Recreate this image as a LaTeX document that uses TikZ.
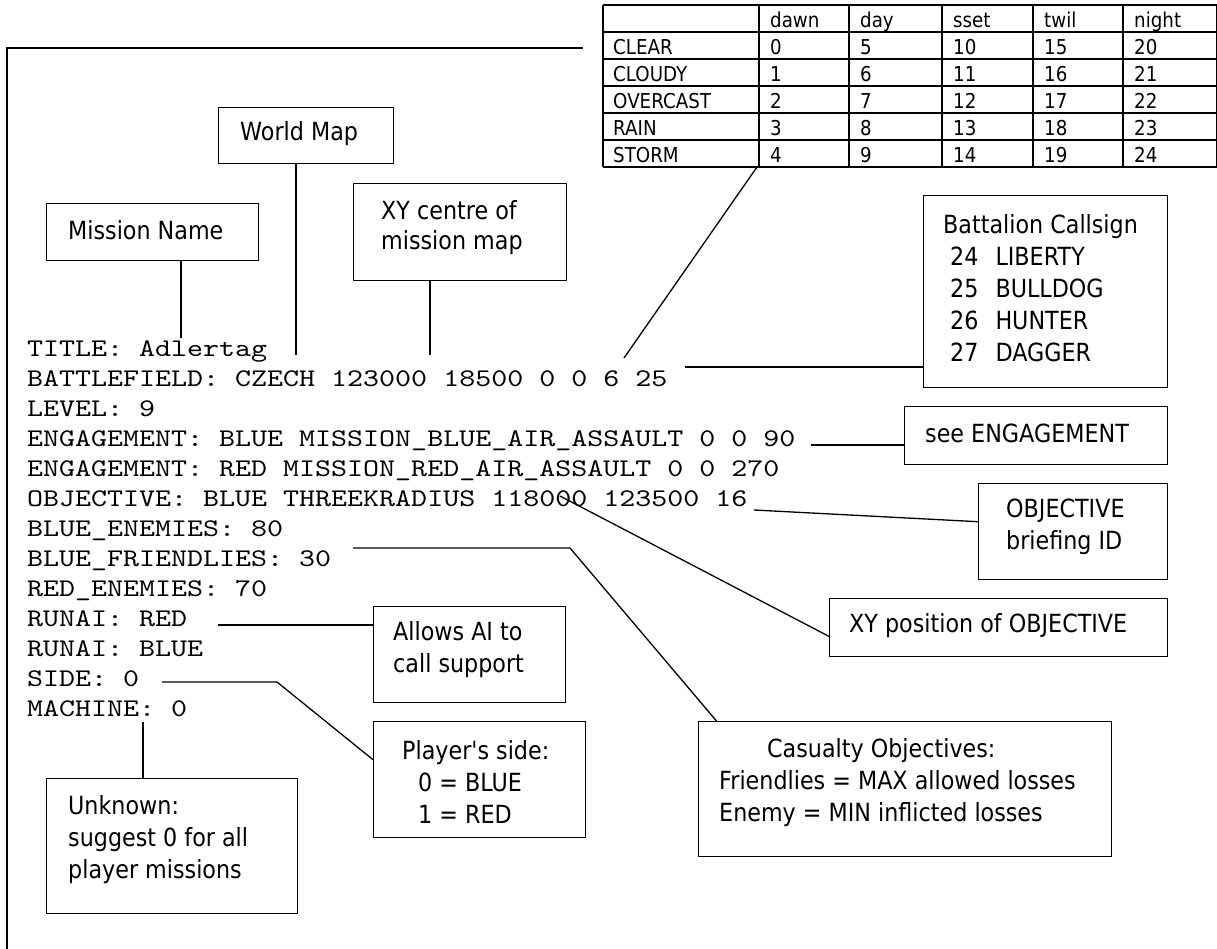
\documentclass[tikz,border=0pt]{standalone}
\usepackage{fontspec}
\newfontfamily\labfont[FakeStretch=0.89]{DejaVu Sans}
\newfontfamily\codefont{lmmono10-regular}[Extension=.otf, FakeStretch=1.2]
\begin{document}
\begin{tikzpicture}[x=1pt,y=-1pt,
  box/.style={draw, line width=1.4pt, anchor=north west, inner sep=0pt},
  lab/.style={anchor=west, inner sep=0pt, align=left, font=\labfont\fontsize{25pt}{32pt}\selectfont},
  code/.style={anchor=base west, inner sep=0pt, font=\codefont\fontsize{25.4pt}{30pt}\selectfont},
  conn/.style={line width=1.3pt},
  cell/.style={anchor=base west, inner sep=0pt, font=\labfont\fontsize{20.5pt}{24pt}\selectfont},
  tabline/.style={line width=1.8pt}]
\useasboundingbox (0,0) rectangle (1217,949);
\fill[white] (0,0) rectangle (1217,949);

% frame
\draw[line width=1.5pt] (583,48) -- (7,48) -- (7,949);

% table
\foreach \k in {0,...,6} {\draw[tabline] (603,{5+26.95*\k}) -- (1216.5,{5+26.95*\k});}
\foreach \xx in {603,759,849,942,1033,1123,1216.5} {\draw[tabline] (\xx,5) -- (\xx,166.7);}
\foreach \t [count=\i from 0] in {dawn,day,sset,twil,night} {
  \pgfmathsetmacro{\cx}{{759,849,942,1033,1123}[\i]}
  \node[cell] (h\i) at (\cx+11,28) {\t};
}
\foreach \w [count=\r from 0] in {CLEAR,CLOUDY,OVERCAST,RAIN,STORM} {
  \pgfmathsetmacro{\by}{5+26.95*(\r+2)-4.5}
  \node[cell] (w\r) at (613,\by) {\w};
  \foreach \c in {0,...,4} {
    \pgfmathsetmacro{\cx}{{759,849,942,1033,1123}[\c]}
    \pgfmathtruncatemacro{\v}{\r+5*\c}
    \node[cell] (v\r\c) at (\cx+11,\by) {\v};
  }
}
\coordinate (tabS) at (757,167);

% code lines
\node[code] (l0) at (27,356.5) {TITLE: Adlertag};
\node[code] (l1) at (27,386.5) {BATTLEFIELD: CZECH 123000 18500 0 0 6 25};
\node[code] (l2) at (27,416.5) {LEVEL: 9};
\node[code] (l3) at (27,446.5) {ENGAGEMENT: BLUE MISSION\_BLUE\_AIR\_ASSAULT 0 0 90};
\node[code] (l4) at (27,476.5) {ENGAGEMENT: RED MISSION\_RED\_AIR\_ASSAULT 0 0 270};
\node[code] (l5) at (27,506.5) {OBJECTIVE: BLUE THREEKRADIUS 118000 123500 16};
\node[code] (l6) at (27,536.5) {BLUE\_ENEMIES: 80};
\node[code] (l7) at (27,566.5) {BLUE\_FRIENDLIES: 30};
\node[code] (l8) at (27,596.5) {RED\_ENEMIES: 70};
\node[code] (l9) at (27,626.5) {RUNAI: RED};
\node[code] (l10) at (27,656.5) {RUNAI: BLUE};
\node[code] (l11) at (27,686.5) {SIDE: 0};
\node[code] (l12) at (27,716.5) {MACHINE: 0};

% boxes
\node[box, minimum width=212pt, minimum height=57pt] (mission) at (46,203) {};
\node[lab] (missionT) at ([xshift=22pt,yshift=2pt]mission.west) {Mission Name};

\node[box, minimum width=175pt, minimum height=56pt] (world) at (218,107) {};
\node[lab] (worldT) at ([xshift=22pt,yshift=2pt]world.west) {World Map};

\node[box, minimum width=213pt, minimum height=97pt] (xyc) at (353,183) {};
\node[lab, font=\labfont\fontsize{25pt}{30pt}\selectfont] (xycT) at ([xshift=28pt,yshift=5pt]xyc.west) {XY centre of\\mission map};

\node[box, minimum width=244pt, minimum height=192pt] (batt) at (923,195) {};
\node[lab] (battT) at ([xshift=20pt,yshift=4pt]batt.west) {Battalion Callsign\\\hspace*{7pt}24\hspace{17pt}LIBERTY\\\hspace*{7pt}25\hspace{17pt}BULLDOG\\\hspace*{7pt}26\hspace{17pt}HUNTER\\\hspace*{7pt}27\hspace{17pt}DAGGER};

\node[box, minimum width=263pt, minimum height=58pt] (seeeng) at (904,406) {};
\node[lab] (seeengT) at ([xshift=21pt,yshift=2pt]seeeng.west) {see ENGAGEMENT};

\node[box, minimum width=189pt, minimum height=96pt] (objid) at (978,483) {};
\node[lab] (objidT) at ([xshift=28pt,yshift=5pt]objid.west) {OBJECTIVE\\briefing ID};

\node[box, minimum width=338pt, minimum height=58pt] (xypos) at (829,598) {};
\node[lab] (xyposT) at ([xshift=20pt,yshift=2pt]xypos.west) {XY position of OBJECTIVE};

\node[box, minimum width=413pt, minimum height=135pt] (casualty) at (698,721) {};
\node[lab] (casualtyT) at ([xshift=21pt,yshift=7pt]casualty.west) {\hspace*{48pt}Casualty Objectives:\\Friendlies = MAX allowed losses\\Enemy = MIN inflicted losses};

\node[box, minimum width=192pt, minimum height=96pt] (allows) at (373,606) {};
\node[lab] (allowsT) at ([xshift=20pt,yshift=5pt]allows.west) {Allows AI to\\call support};

\node[box, minimum width=212pt, minimum height=116pt] (player) at (373,721) {};
\node[lab] (playerT) at ([xshift=29pt,yshift=-2pt]player.west) {Player's side:\\\hspace*{16pt}0 = BLUE\\\hspace*{16pt}1 = RED};

\node[box, minimum width=251pt, minimum height=135pt] (unknown) at (46,778) {};
\node[lab] (unknownT) at ([xshift=22pt,yshift=7pt]unknown.west) {Unknown:\\suggest 0 for all\\player missions};

% connector end points on the code text
\coordinate (cTitle) at (181,338);
\coordinate (cBfWorld) at (296,355);
\coordinate (cBfXY) at (430,355);
\coordinate (c6) at (624,358);
\coordinate (c25) at (685,367);
\coordinate (c90) at (811,445);
\coordinate (c16) at (754,510);
\coordinate (cObj) at (560,496);
\coordinate (cFr) at (353,548);
\coordinate (cFrK) at (570,548);
\coordinate (cRunai) at (218,625);
\coordinate (cSide) at (162,682);
\coordinate (cSideK) at (277,682);
\coordinate (cMach) at (143,722);

% connectors
\draw[conn] (mission.south -| cTitle) -- (cTitle);
\draw[conn] (world.south -| cBfWorld) -- (cBfWorld);
\draw[conn] (xyc.south -| cBfXY) -- (cBfXY);
\draw[conn] (tabS) -- (c6);
\draw[conn] (c25) -- (c25 -| batt.west);
\draw[conn] (c90) -- (c90 -| seeeng.west);
\draw[conn] (c16) -- ([yshift=10pt]objid.west);
\draw[conn] (cObj) -- ([yshift=-8.7pt]xypos.west);
\draw[conn] (cFr) -- (cFrK) -- ([xshift=18.5pt]casualty.north west);
\draw[conn] (cRunai) -- (cRunai -| allows.west);
\draw[conn] (cSide) -- (cSideK) -- ([yshift=20pt]player.west);
\draw[conn] (cMach) -- (cMach |- unknown.north);
\end{tikzpicture}
\end{document}
